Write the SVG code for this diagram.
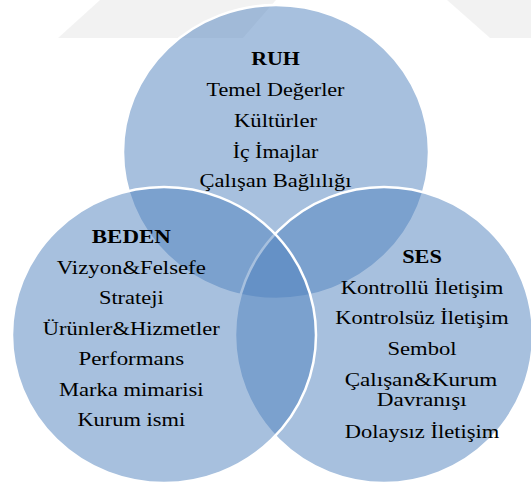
<svg xmlns="http://www.w3.org/2000/svg" width="531" height="482" viewBox="0 0 531 482">
<style>
.c{fill:#4f81bd;fill-opacity:.5;stroke:#fff;stroke-width:2.5}
.wm{fill:#000;fill-opacity:.05}
text{font-family:"Liberation Serif","Times New Roman",serif;font-size:19px;fill:#000;text-anchor:middle}
.h{font-weight:bold}
</style>
<rect width="531" height="482" fill="#fff"/>
<g id="watermark">
<polygon class="wm" points="58,38 100,0 276,0 243,38"/>
<polygon class="wm" points="447,0 531,0 531,38 490,38"/>
</g>
<g id="ruh">
<ellipse class="c" cx="276" cy="152" rx="153" ry="147"/>
<text class="h" x="275.5" y="65" textLength="48.7" lengthAdjust="spacingAndGlyphs">RUH</text>
<text x="275.5" y="96" textLength="138" lengthAdjust="spacingAndGlyphs">Temel Değerler</text>
<text x="275.5" y="126.7" textLength="83" lengthAdjust="spacingAndGlyphs">Kültürler</text>
<text x="275.5" y="157.7" textLength="85.7" lengthAdjust="spacingAndGlyphs">İç İmajlar</text>
<text x="275.5" y="186.7" textLength="152" lengthAdjust="spacingAndGlyphs">Çalışan Bağlılığı</text>
</g>
<g id="ses">
<ellipse class="c" cx="384" cy="335" rx="149" ry="148"/>
<text class="h" x="422" y="263.3" textLength="39.7" lengthAdjust="spacingAndGlyphs">SES</text>
<text x="422" y="293.7" textLength="162.7" lengthAdjust="spacingAndGlyphs">Kontrollü İletişim</text>
<text x="422" y="323.7" textLength="173.3" lengthAdjust="spacingAndGlyphs">Kontrolsüz İletişim</text>
<text x="422" y="354.5" textLength="69" lengthAdjust="spacingAndGlyphs">Sembol</text>
<text x="421" y="385.8" textLength="152.7" lengthAdjust="spacingAndGlyphs">Çalışan&amp;Kurum</text>
<text x="421.7" y="406" textLength="90" lengthAdjust="spacingAndGlyphs">Davranışı</text>
<text x="422" y="437.5" textLength="154.3" lengthAdjust="spacingAndGlyphs">Dolaysız İletişim</text>
</g>
<g id="beden">
<ellipse class="c" cx="164" cy="335" rx="152" ry="148"/>
<text class="h" x="131.3" y="243" textLength="79" lengthAdjust="spacingAndGlyphs">BEDEN</text>
<text x="131.3" y="273.5" textLength="149" lengthAdjust="spacingAndGlyphs">Vizyon&amp;Felsefe</text>
<text x="131.3" y="304" textLength="64.7" lengthAdjust="spacingAndGlyphs">Strateji</text>
<text x="131.3" y="334.5" textLength="177" lengthAdjust="spacingAndGlyphs">Ürünler&amp;Hizmetler</text>
<text x="131.3" y="365" textLength="105.7" lengthAdjust="spacingAndGlyphs">Performans</text>
<text x="131.3" y="395.5" textLength="144.7" lengthAdjust="spacingAndGlyphs">Marka mimarisi</text>
<text x="131.3" y="426" textLength="107.7" lengthAdjust="spacingAndGlyphs">Kurum ismi</text>
</g>
</svg>
